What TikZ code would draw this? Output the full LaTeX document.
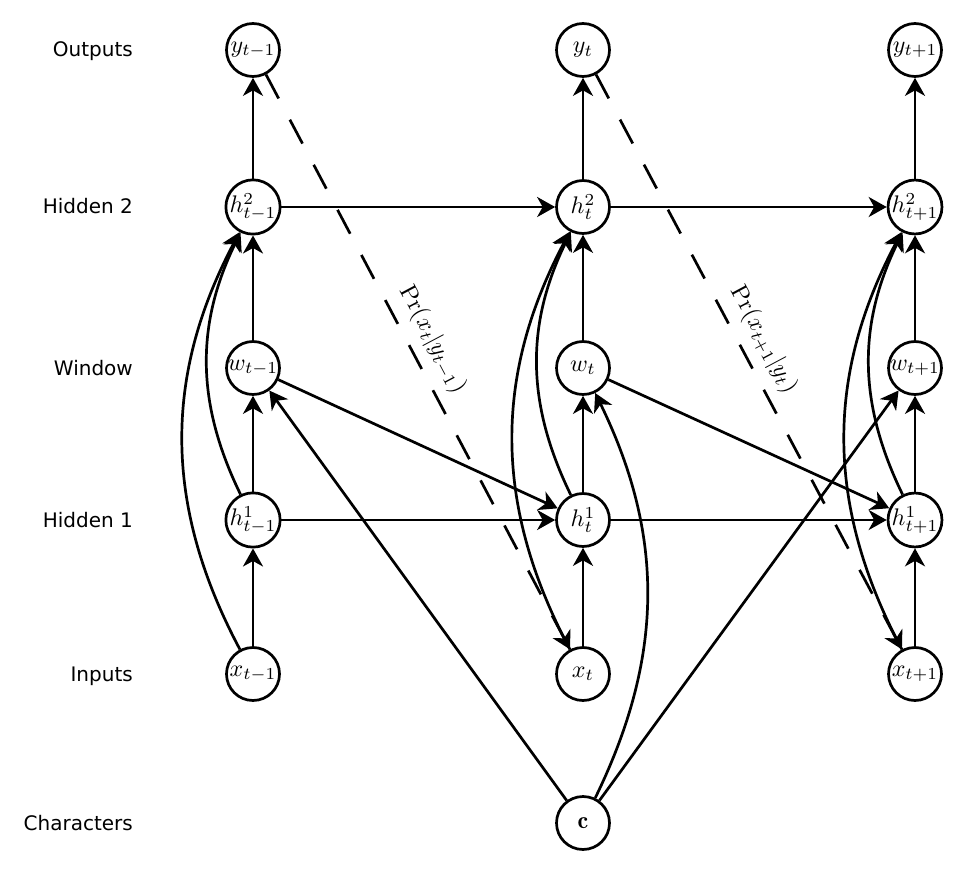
\documentclass[tikz,border=0pt]{standalone}
\usepackage{graphicx}
\usepackage{fontspec}
\newfontfamily\labelfont{DejaVu Sans}
\usetikzlibrary{arrows.meta}
\newcommand{\nodemath}[1]{\scalebox{2.4}{$#1$}}
\begin{document}
\begin{tikzpicture}[x=1pt,y=-1pt,
  unit/.style={circle,draw,line width=2.7pt,minimum size=53pt,inner sep=0pt},
  rowlabel/.style={anchor=base east,font=\labelfont\fontsize{20}{24}\selectfont,inner sep=0pt},
  conn/.style={line width=2.7pt,-{Stealth[length=18pt,width=20pt,inset=5.5pt]}},
  pred/.style={conn,dash pattern=on 27pt off 24pt},
  plabel/.style={sloped,above,inner sep=10pt}
]
\useasboundingbox (0,0) rectangle (966,882);
% row labels
\node[rowlabel] (lout) at (133,57) {Outputs};
\node[rowlabel] (lh2) at (133,214) {Hidden 2};
\node[rowlabel] (lwin) at (133,375) {Window};
\node[rowlabel] (lh1) at (133,527) {Hidden 1};
\node[rowlabel] (lin) at (133,681) {Inputs};
\node[rowlabel] (lch) at (133,830) {Characters};
% nodes
\node[unit] (y1) at (253,50) {\nodemath{y_{t-1}}};
\node[unit] (y2) at (583,50) {\nodemath{y_t}};
\node[unit] (y3) at (915,50) {\nodemath{y_{t+1}}};
\node[unit] (hb1) at (253,207) {\nodemath{h^2_{t-1}}};
\node[unit] (hb2) at (583,207) {\nodemath{h^2_t}};
\node[unit] (hb3) at (915,207) {\nodemath{h^2_{t+1}}};
\node[unit] (w1) at (253,368) {\nodemath{w_{t-1}}};
\node[unit] (w2) at (583,368) {\nodemath{w_t}};
\node[unit] (w3) at (915,368) {\nodemath{w_{t+1}}};
\node[unit] (ha1) at (253,520) {\nodemath{h^1_{t-1}}};
\node[unit] (ha2) at (583,520) {\nodemath{h^1_t}};
\node[unit] (ha3) at (915,520) {\nodemath{h^1_{t+1}}};
\node[unit] (x1) at (253,674) {\nodemath{x_{t-1}}};
\node[unit] (x2) at (583,674) {\nodemath{x_t}};
\node[unit] (x3) at (915,674) {\nodemath{x_{t+1}}};
\node[unit] (c) at (583,823) {\nodemath{\mathbf{c}}};
% vertical connections and skip connections
\foreach \i in {1,2,3}{
  \draw[conn] (x\i) -- (ha\i);
  \draw[conn] (ha\i) -- (w\i);
  \draw[conn] (w\i) -- (hb\i);
  \draw[conn] (hb\i) -- (y\i);
  \draw[conn] (x\i) to[bend left=28] (hb\i);
  \draw[conn] (ha\i) to[bend left=26] (hb\i);
}
% recurrent connections
\draw[conn] (ha1) -- (ha2);
\draw[conn] (ha2) -- (ha3);
\draw[conn] (hb1) -- (hb2);
\draw[conn] (hb2) -- (hb3);
\draw[conn] (w1) -- (ha2);
\draw[conn] (w2) -- (ha3);
% characters to window
\draw[conn] (c) -- (w1);
\draw[conn] (c) to[bend right=26] (w2);
\draw[conn] (c) -- (w3);
% predictions
\draw[pred] (y1) -- node[plabel,pos=0.48] {\nodemath{\Pr(x_t|y_{t-1})}} (x2);
\draw[pred] (y2) -- node[plabel,pos=0.48] {\nodemath{\Pr(x_{t+1}|y_t)}} (x3);
\end{tikzpicture}
\end{document}
